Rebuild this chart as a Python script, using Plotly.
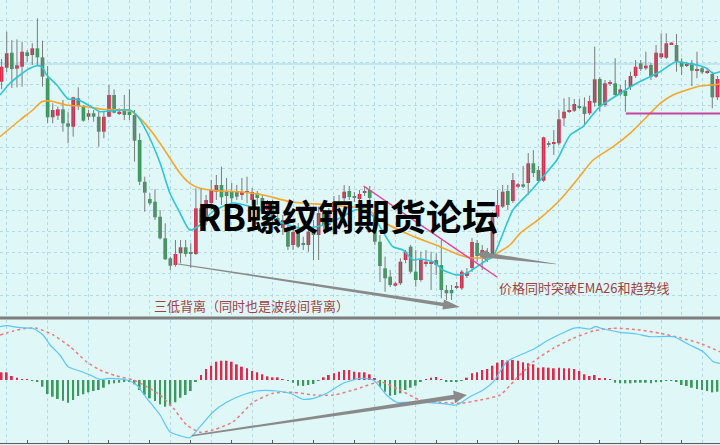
import math
import plotly.graph_objects as go

# ---------------- data (price in chart units) ----------------
opens = [238.3, 252.3, 267.3, 251.3, 253.3, 267.7, 265, 271.7, 262.7, 241.7,
         202.7, 204.3, 210.7, 196.7, 193.3, 221.7, 214, 203.3, 206.7, 203.3,
         188.3, 203.3, 225, 206, 209, 208.3, 205, 180, 138.3, 121,
         118.3, 103.3, 81.7, 61.7, 55, 66.7, 72.7, 67.3, 66, 111.7,
         98, 117, 128.3, 135, 128, 128.3, 128.3, 125, 127, 120,
         127, 122, 110, 116, 102, 92, 91.7, 75, 90, 77,
         75, 89.3, 85, 106, 95, 108, 118, 121.7, 129, 124,
         121, 127, 130, 106, 78.3, 51.7, 43.3, 34.3, 36.7, 60,
         73.3, 48.3, 40, 56.7, 56.7, 60, 55, 30, 30, 32.7,
         31.7, 44, 52, 77, 63, 68, 64, 103.3, 113.3, 129,
         119, 133.3, 135.7, 137, 156.7, 150, 139.3, 176.5, 176, 176.7,
         201.7, 208.3, 209.3, 214, 213.3, 206.7, 217.3, 241, 215, 236.5,
         236.7, 225.7, 229, 233, 244, 256.7, 251.7, 255, 243.3, 262.7,
         262.3, 275.7, 275, 258.3, 254.3, 256.7, 249.3, 251.7, 247.7, 246,
         222.7]
highs = [261, 288.3, 280, 280.7, 278.3, 270, 276.7, 301.7, 279.3, 254,
         216.7, 213.3, 220, 208.3, 223.3, 232.7, 215, 210, 210, 208.3,
         208.3, 235, 230.7, 211.7, 225, 230.7, 210, 186.7, 143.3, 126.7,
         130.7, 110, 96.7, 63.3, 80, 80, 80, 76.7, 131.7, 132,
         125, 140, 145, 153.3, 142, 137, 135, 142, 143.3, 132,
         129, 125, 120, 120, 108, 105, 105, 94, 97, 83.3,
         100, 100, 113.3, 110, 112, 124, 125, 135, 134, 128,
         130, 133, 134, 108, 85, 63.3, 50, 38.3, 61.7, 70,
         75, 70, 68.3, 70, 68.3, 66.7, 80, 35, 35, 38,
         50, 52, 82, 80, 75, 72, 108, 130, 135, 135,
         147, 137, 154, 167, 170, 154, 183.3, 179, 190, 210,
         221.7, 223, 221, 221, 222.7, 224.3, 273.3, 243, 240, 240,
         261.7, 235, 240, 248.3, 260, 260, 268.3, 257, 275, 286.7,
         286.7, 278, 286, 261.7, 258, 260, 268.3, 254, 251, 248.3,
         244]
lows = [231, 248, 232, 232.7, 233.3, 258.3, 255, 255, 233.3, 196.7,
        196.7, 200, 188.3, 176.7, 183.3, 210, 198.3, 200, 198.3, 173.3,
        181.7, 202.7, 206.7, 205, 200, 200, 158.3, 135, 108.3, 115,
        100, 80.7, 60, 50, 53.3, 56.7, 63.3, 52, 65, 94,
        95, 110, 120, 115, 114, 115, 120, 120, 116.7, 115,
        115, 106, 102, 98, 88, 85, 70, 70, 72, 70,
        68.3, 60, 60, 88, 92, 105, 108, 117, 120, 118,
        115, 124, 108, 75, 38, 28.3, 33, 33.3, 35, 56.7,
        46.7, 33.3, 38.3, 53.3, 30, 45, 21.7, 20, 20, 31,
        30, 42, 48, 58, 50, 58, 62, 102, 112, 110,
        117, 132, 132, 125, 143, 137, 138, 173, 165, 175,
        194, 207, 208, 211, 195, 205, 213.3, 208.3, 213, 234,
        223.3, 224, 208.3, 230, 242, 249, 250, 240, 242, 261,
        261, 275, 248.3, 245, 253, 234, 241.7, 246, 246, 211.7,
        220]
closes = [253.3, 266.7, 251, 254.7, 268.3, 264, 271.7, 262.7, 243.3, 202.7,
          210, 210.7, 196.7, 193.3, 222.7, 214, 199.3, 206.7, 203.3, 188.3,
          203.3, 225, 207.3, 208.3, 205, 205, 179.3, 138.3, 127.3, 116.7,
          102.7, 81.7, 60.7, 54.3, 66, 72.7, 66, 66, 111.7, 97,
          120, 130, 135, 122.7, 124, 121.7, 123.3, 128.3, 128.3, 128,
          122, 110, 116, 102, 95, 100, 73.3, 88, 73.3, 75,
          88.3, 85, 107, 95, 108, 118, 114, 128.3, 123, 122,
          126, 129, 122, 78.3, 54, 41.7, 35, 36.7, 58.3, 68.3,
          48.3, 40, 60, 58.3, 58.3, 55, 30, 26.7, 26.7, 34,
          48.3, 47, 78, 64, 70, 64, 105, 115, 128.3, 115,
          140, 135.7, 133.3, 156.7, 147, 139, 182.7, 175.5, 177.3, 200.7,
          208.3, 209.3, 216, 212.7, 206, 219, 240.7, 214, 236.7, 237.3,
          225, 230.7, 224, 244, 253.3, 251, 254.3, 243.3, 267.3, 266.7,
          276.7, 277.3, 258.3, 253.3, 256, 249.3, 250.7, 247.7, 249, 222.7,
          241]

macd_hist = [7.7, 7.7, 4, 2.3, 0.7, 0.3, -0.7, -1.7, -6.7, -14,
             -16.7, -19, -20.7, -22.7, -20, -16, -14.3, -12.3, -11, -10,
             -7.7, -4.3, -3.3, -2.7, -2, -1.7, -4.3, -10, -15, -18.3,
             -21, -24.3, -26.7, -25.7, -22.3, -17.7, -15, -11, -1.7, 5,
             11, 14.3, 18.3, 19.3, 19.3, 18.3, 15.7, 13.3, 11.7, 9,
             7.7, 5.7, 3.7, 2.7, 2.7, 0.5, -1, -2.7, -5.7, -6,
             -5, -4, -0.7, 2.7, 5, 6.7, 8.3, 10, 10, 8.3,
             7.7, 7.7, 5.7, 1.5, -6.7, -11.7, -15.7, -15, -13.3, -10,
             -7.7, -5.7, -1.7, 0.3, 2.3, 3, 0.3, -1.7, -1.7, -1.7,
             -0.3, 2.3, 6.7, 7.7, 10, 11, 14.3, 17.3, 20, 19.3,
             20, 19.3, 17.7, 16.7, 15.7, 12.3, 12.7, 12.3, 11.7, 12.3,
             11.7, 11.7, 11, 9, 5.7, 4, 5, 1.7, 1.7, 1,
             -2.7, -3.3, -3.3, -3.3, -2.7, -2.7, -2.7, -3.3, -2.3, -1.7,
             -1, -1, -1.7, -5, -6, -7.7, -9, -10, -11, -12.3,
             -11.7]

ema_fast_idx = [-0.31, 1.64, 3.6, 5.55, 6.86, 7.84, 8.82, 10.8, 13.0, 14.7, 17.3, 19.2, 21.2, 25.1,
                26.4, 28.4, 31.0, 32.9, 34.9, 36.8, 38.8, 41.3, 45.3, 50.5, 54.4, 58.4, 62.3, 66.2,
                69.1, 71.1, 72.6, 74.0, 76.5, 78.5, 80.5, 81.8, 84.4, 86.3, 89.1, 91.0, 93.0, 94.9,
                96.1, 100.0, 103.3, 105.9, 108.6, 111.2, 113.7, 115.1, 117.0, 121.0, 124.2, 126.8,
                128.8, 130.7, 132.0, 134.0, 136.0, 137.9, 139.1, 140.5]
ema_fast_val = [225, 236.7, 245, 251.7, 254.3, 253.3, 245, 235, 221, 220.7, 214, 208.3, 209, 210,
                205, 188, 157, 127, 107, 90, 95, 108.3, 117, 110, 98, 92, 94, 102,
                110, 110, 104, 93.3, 73.3, 70, 60, 61, 58.3, 50, 45, 47, 53.3, 60,
                63.3, 110, 128, 143.3, 160, 185, 193.3, 202, 213.3, 226.7, 236.7, 243.3,
                248.3, 255, 258.3, 256.7, 255, 251.7, 246.7, 248.3]

ema_slow_idx = [-0.31, 3.6, 6.1, 7.84, 9.5, 12.7, 16.6, 19.8, 25.1, 27.1, 29.6, 32.3, 34.9, 36.8,
                38.8, 42.1, 46.6, 51.2, 56.4, 64.2, 70.1, 72.6, 74.0, 79.9, 85.7, 89.6, 92.2, 95.5,
                99.4, 101.4, 105.3, 109.2, 112.5, 115.7, 119.6, 122.9, 126.2, 128.8, 131.3, 134.0,
                136.6, 139.1, 140.5]
ema_slow_val = [183.3, 200, 210, 218.3, 219, 215, 213.3, 210.7, 209.3, 201.7, 186.7, 166.7, 146.7, 136.7,
                131.7, 129.3, 128.3, 125, 118.3, 115, 112, 107, 100, 85, 73.3, 65, 62, 63.3,
                75, 86.7, 101.7, 120, 140, 160, 173.3, 186.7, 203.3, 216.7, 225, 230,
                234, 235, 236]

dif_idx = [-0.31, 1.0, 3.6, 6.1, 8.1, 9.5, 11.4, 13.0, 14.7, 17.3, 19.2, 21.2, 24.5, 26.4, 28.4,
           31.0, 32.9, 34.9, 36.8, 38.8, 41.4, 44.0, 46.6, 49.9, 53.8, 56.4, 59.0, 61.0, 63.6,
           66.8, 70.1, 72.7, 75.3, 77.3, 79.2, 83.1, 86.4, 89.0, 91.6, 94.2, 96.2, 98.8, 101.4,
           104.0, 106.6, 109.2, 111.8, 113.1, 115.1, 116.1, 117.7, 121.0, 124.2, 126.8, 131.4,
           134.6, 137.2, 139.2, 140.5]
dif_val = [53.3, 54.3, 52.3, 51.7, 45, 35, 25, 13.3, 10, 5, 0.7, 1.7, 0, -5, -18.3,
           -35, -51.7, -55.7, -57.7, -46.7, -31.7, -22.3, -16, -11, -11, -13.3, -19.3, -18.3, -13.3,
           -3.3, 1.7, 0, -15, -22.3, -22.3, -22.3, -23.7, -25, -16.7, -10, -1.7, 18.3, 25,
           30.7, 39, 45.7, 51.7, 52.3, 51, 53.3, 51, 47.7, 46, 43.3, 43.3,
           35, 28.3, 18.3, 16.7]

dea_idx = [-0.31, 2.3, 4.9, 6.9, 10.1, 13.4, 16.6, 19.2, 22.5, 25.8, 28.4, 31.0, 33.6, 36.2,
           38.8, 41.4, 45.3, 49.2, 53.1, 57.1, 61.0, 64.9, 68.8, 70.1, 74.0, 77.9, 81.8, 85.7,
           89.7, 93.6, 97.5, 100.1, 104.0, 107.9, 111.8, 115.7, 119.6, 124.9, 128.8, 132.7,
           136.6, 140.5]
dea_val = [45, 49, 51.7, 51.7, 45, 33.3, 18.3, 10, 4, 0, -6.7, -15, -28.3, -45,
           -52.3, -50, -41.7, -22.3, -13.3, -12.3, -15, -15, -10, -8, -1.7, -10, -20, -22.3,
           -23.3, -20, -15, -1.7, 18.3, 31.7, 41.7, 49, 51.7, 50, 46.7, 42.3,
           36.7, 28.3]

# annotation anchors (candle index, price / macd value)
trend_line = ((70.8, 134), (96.9, 43))
resistance = (122.1, 206.5)
divergence_arrow = ((34.5, 56), (89.65, 13))
breakout_arrow = ((108.4, 56), (93.0, 66))
macd_arrow = ((37.2, -55.7), (91.0, -15))
title_text = "RB螺纹钢期货论坛"
note_left = "三低背离（同时也是波段间背离）"
note_right = "价格同时突破EMA26和趋势线"

# ---------------- layout constants ----------------
W, H = 720, 445
n = len(closes)
x_min = -0.313
x_max = 140.504
px_per_x = W / (x_max - x_min)
main_range = [4, 320]
macd_range = [-63, 60]

BG = "#dff7f7"
GRID = "#b3d9e8"
RED = "#dc2a4b"
GREEN = "#3b9a5e"

idx = list(range(n))

fig = go.Figure()

# wicks
wx, wy = [], []
for i in idx:
    wx += [i, i, None]
    wy += [lows[i], highs[i], None]
fig.add_trace(go.Scatter(x=wx, y=wy, mode="lines", line=dict(color="#7c7c7c", width=1),
                         hoverinfo="skip", showlegend=False, xaxis="x", yaxis="y"))

# bodies
body_h, body_c = [], []
for i in idx:
    h = closes[i] - opens[i]
    up = h >= 0
    if abs(h) < 1.0:
        h = 1.0 if up else -1.0
    body_h.append(h)
    body_c.append(RED if up else GREEN)
fig.add_trace(go.Bar(x=idx, y=body_h, base=opens, width=0.72, marker=dict(color=body_c, line=dict(width=0)),
                     showlegend=False, xaxis="x", yaxis="y"))

# EMA lines
fig.add_trace(go.Scatter(x=ema_slow_idx, y=ema_slow_val, mode="lines",
                         line=dict(color="#f7a52b", width=1.6, shape="spline", smoothing=0.6),
                         showlegend=False, xaxis="x", yaxis="y"))
fig.add_trace(go.Scatter(x=ema_fast_idx, y=ema_fast_val, mode="lines",
                         line=dict(color="#2ec6d3", width=1.6, shape="spline", smoothing=0.6),
                         showlegend=False, xaxis="x", yaxis="y"))

# MACD histogram
hist_c = [RED if v >= 0 else GREEN for v in macd_hist]
fig.add_trace(go.Bar(x=idx, y=macd_hist, width=0.36, marker=dict(color=hist_c, line=dict(width=0)),
                     showlegend=False, xaxis="x2", yaxis="y2"))
fig.add_trace(go.Scatter(x=dea_idx, y=dea_val, mode="lines",
                         line=dict(color="#ee7b7b", width=1.5, dash="dot", shape="spline", smoothing=0.6),
                         showlegend=False, xaxis="x2", yaxis="y2"))
fig.add_trace(go.Scatter(x=dif_idx, y=dif_val, mode="lines",
                         line=dict(color="#5cc6f6", width=1.2, shape="spline", smoothing=0.6),
                         showlegend=False, xaxis="x2", yaxis="y2"))


def arrow_path(tail, tip, y_scale, w0, w1, head_len, head_hw):
    """Tapered arrow polygon; geometry computed in screen pixels."""
    tx, ty = tail[0] * px_per_x, tail[1] * y_scale
    ax, ay = tip[0] * px_per_x, tip[1] * y_scale
    dx, dy = ax - tx, ay - ty
    L = math.hypot(dx, dy)
    ux, uy = dx / L, dy / L
    nx, ny = -uy, ux
    bx, by = ax - ux * head_len, ay - uy * head_len
    pts = [
        (tx + nx * w0 / 2, ty + ny * w0 / 2),
        (bx + nx * w1 / 2, by + ny * w1 / 2),
        (bx + nx * head_hw, by + ny * head_hw),
        (ax, ay),
        (bx - nx * head_hw, by - ny * head_hw),
        (bx - nx * w1 / 2, by - ny * w1 / 2),
        (tx - nx * w0 / 2, ty - ny * w0 / 2),
    ]
    d = ""
    for k, (px, py) in enumerate(pts):
        d += ("M" if k == 0 else "L") + f"{px / px_per_x:.4f},{py / y_scale:.4f} "
    return d + "Z"


main_scale = 316 / (main_range[1] - main_range[0])
macd_scale = 123 / (macd_range[1] - macd_range[0])

shapes = [
    # faint solid level line
    dict(type="line", xref="paper", yref="y", x0=0, x1=1, y0=256, y1=256,
         line=dict(color="#a9d3e6", width=1), layer="below"),
    # panel separator
    dict(type="line", xref="paper", yref="paper", x0=0, x1=1, y0=1 - 318 / H, y1=1 - 318 / H,
         line=dict(color="#7d7d7d", width=3)),
    # trend line
    dict(type="line", xref="x", yref="y", x0=trend_line[0][0], y0=trend_line[0][1],
         x1=trend_line[1][0], y1=trend_line[1][1], line=dict(color="#e6449c", width=1.5)),
    # resistance level
    dict(type="line", xref="x", yref="y", x0=resistance[0], y0=resistance[1],
         x1=x_max, y1=resistance[1], line=dict(color="#c8449f", width=2)),
    dict(type="path", xref="x", yref="y", fillcolor="#8a8a8a", line=dict(width=0),
         path=arrow_path(divergence_arrow[0], divergence_arrow[1], main_scale, 1.0, 3.5, 17, 5)),
    dict(type="path", xref="x", yref="y", fillcolor="#8a8a8a", line=dict(width=0),
         path=arrow_path(breakout_arrow[0], breakout_arrow[1], main_scale, 0.6, 5.0, 10, 5.5)),
    dict(type="path", xref="x2", yref="y2", fillcolor="#8a8a8a", line=dict(width=0),
         path=arrow_path(macd_arrow[0], macd_arrow[1], macd_scale, 1.5, 4.5, 13, 6.5)),
]

annotations = [
    dict(text=title_text, xref="paper", yref="paper", x=347 / W, y=1 - 215 / H,
         showarrow=False, xanchor="center", yanchor="middle",
         font=dict(family="Noto Sans CJK SC", size=36, color="#000000", weight="bold")),
    dict(text=note_left, xref="paper", yref="paper", x=252 / W, y=1 - 305 / H,
         showarrow=False, xanchor="center", yanchor="middle",
         font=dict(family="Noto Sans CJK SC", size=13, color="#a0423f")),
    dict(text=note_right, xref="paper", yref="paper", x=584 / W, y=1 - 287 / H,
         showarrow=False, xanchor="center", yanchor="middle",
         font=dict(family="Noto Sans CJK SC", size=13, color="#a0423f")),
]

fig.update_layout(
    width=W, height=H,
    margin=dict(l=0, r=0, t=0, b=0),
    paper_bgcolor=BG, plot_bgcolor=BG,
    showlegend=False, barmode="overlay",
    xaxis=dict(domain=[0, 1], range=[x_min, x_max], anchor="y",
               showgrid=True, gridcolor=GRID, griddash="dot", gridwidth=1,
               tick0=1, dtick=4, showticklabels=False, ticks="", zeroline=False, showline=False),
    yaxis=dict(domain=[1 - 316 / H, 1], range=main_range, anchor="x",
               showgrid=True, gridcolor=GRID, griddash="dot", gridwidth=1,
               tick0=25, dtick=21.1, showticklabels=False, ticks="", zeroline=False, showline=False),
    xaxis2=dict(domain=[0, 1], range=[x_min, x_max], anchor="y2",
                showgrid=True, gridcolor=GRID, griddash="dot", gridwidth=1,
                tick0=1, dtick=8, showticklabels=False, ticks="", zeroline=False,
                showline=True, linecolor="#5a5a5a", linewidth=1,
                minor=dict(tick0=5, dtick=8, ticks="inside", ticklen=3, tickcolor="#5a5a5a", showgrid=False)),
    yaxis2=dict(domain=[2 / H, 125 / H], range=macd_range, anchor="x2",
                showgrid=False, showticklabels=False, ticks="", zeroline=False, showline=False),
    shapes=shapes,
    annotations=annotations,
)

fig.write_html("out.html", config={"displayModeBar": False},
               post_script="document.body.style.margin='0';document.body.style.background='" + BG + "';")
